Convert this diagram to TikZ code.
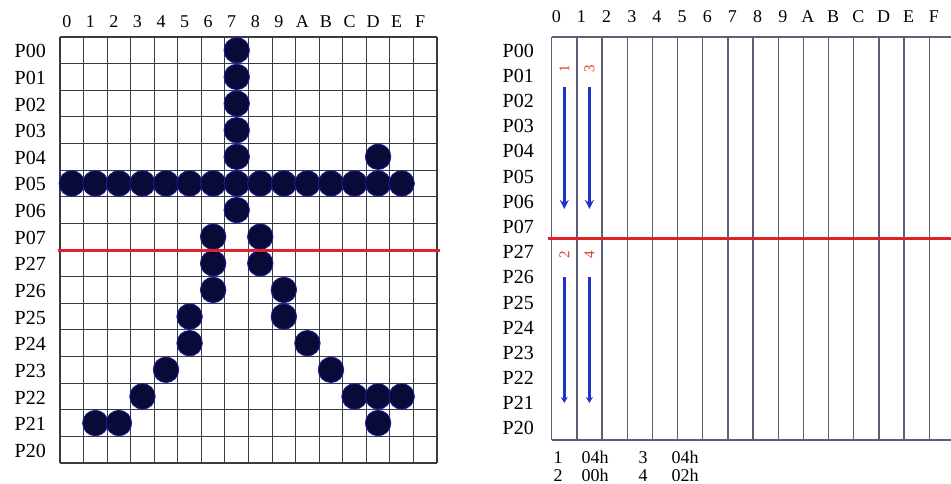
\documentclass[tikz,border=0pt]{standalone}
\usepackage{fontspec}
\setmainfont{Liberation Serif}
\usetikzlibrary{arrows.meta,positioning}
\definecolor{dotnavy}{HTML}{0A0A38}
\definecolor{dotrim}{HTML}{1C1CA0}
\definecolor{gridgray}{HTML}{3A3A44}
\definecolor{lanegray}{HTML}{5E5E7A}
\definecolor{cutred}{HTML}{E0202A}
\definecolor{scanblue}{HTML}{1F35C8}
\definecolor{tagred}{HTML}{D8402A}

\begin{document}
\begin{tikzpicture}[x=1pt, y=-1pt, >=Stealth,
  lbl/.style={font=\fontsize{20}{22}\selectfont, inner sep=0pt, anchor=east},
  colno/.style={font=\fontsize{18}{20}\selectfont, inner sep=0pt, anchor=base},
  pixel/.style={circle, minimum size=25.5pt, inner sep=0pt, draw=dotrim, line width=0.8pt, fill=dotnavy},
  gridline/.style={draw=gridgray, line width=1.1pt},
  laneline/.style={draw=lanegray, line width=1.4pt},
  cutline/.style={draw=cutred, line width=3.5pt},
  scan/.style={->, line width=3pt, draw=scanblue},
  tag/.style={font=\fontsize{15}{16}\selectfont, text=tagred, rotate=90, inner sep=0pt},
  code/.style={font=\fontsize{18}{19}\selectfont, inner sep=0pt, anchor=base}]
  \useasboundingbox (0,0) rectangle (951,484);
  \fill[white] (0,0) rectangle (951,484);

  % Left panel: grid
  \foreach \i in {0,...,16}
    \draw[gridline] ({60+23.5625*\i},37) -- ({60+23.5625*\i},463);
  \foreach \j in {0,...,16}
    \draw[gridline] (60,{37+26.625*\j}) -- (437,{37+26.625*\j});

  % Left panel: column and row labels
  \foreach \c [count=\i from 0] in {0,1,2,3,4,5,6,7,8,9,A,B,C,D,E,F}
    \node[colno] (lc\c) at ({60+23.5625*(\i+0.5)-5},28) {\c};
  \foreach \r [count=\j from 0] in {P00,P01,P02,P03,P04,P05,P06,P07,P27,P26,P25,P24,P23,P22,P21,P20}
    \node[lbl] (l\r) at (46,{37+26.625*(\j+0.5)+1}) {\r};

  % Left panel: lit pixels
  \foreach \c in {0,...,14}
    \node[pixel] (d\c-5) at ({60+23.5625*(\c+0.5)},{37+26.625*5.5}) {};
  \foreach \c/\r in {7/0,7/1,7/2,7/3,7/4,13/4,7/6,6/7,8/7,6/8,8/8,6/9,9/9,5/10,9/10,
                     5/11,10/11,4/12,11/12,3/13,12/13,13/13,14/13,1/14,2/14,13/14}
    \node[pixel] (d\c-\r) at ({60+23.5625*(\c+0.5)},{37+26.625*(\r+0.5)}) {};

  \draw[cutline] (58,250.5) -- (440,250.5);

  % Right panel: lanes
  \foreach \i in {0,...,16}
    \draw[laneline] ({551.7+25.17*\i},37) -- ({551.7+25.17*\i},440);
  \draw[laneline] (551.7,37) -- (951,37);
  \draw[laneline] (551.7,440) -- (951,440);

  % Right panel: column and row labels
  \foreach \c [count=\i from 0] in {0,1,2,3,4,5,6,7,8,9,A,B,C,D,E,F}
    \node[colno] (rc\c) at ({551.7+25.17*(\i+0.5)-8},23) {\c};
  \foreach \r [count=\j from 0] in {P00,P01,P02,P03,P04,P05,P06,P07,P27,P26,P25,P24,P23,P22,P21,P20}
    \node[lbl] (r\r) at (534,{37+25.19*(\j+0.5)+1}) {\r};

  \draw[cutline] (548,238.6) -- (951,238.6);

  % Scan order
  \node[tag] (t1) at (564.3,69) {1};
  \node[tag] (t3) at (589.4,69) {3};
  \node[tag] (t2) at (564.3,255) {2};
  \node[tag] (t4) at (589.4,255) {4};
  \coordinate (s1) at (564.3,87);  \coordinate (e1) at (564.3,209);
  \coordinate (s3) at (589.4,87);  \coordinate (e3) at (589.4,209);
  \coordinate (s2) at (564.3,277); \coordinate (e2) at (564.3,403);
  \coordinate (s4) at (589.4,277); \coordinate (e4) at (589.4,403);
  \draw[scan, -{Stealth[length=9pt,width=9pt]}] (s1) -- (e1);
  \draw[scan, -{Stealth[length=9pt,width=9pt]}] (s3) -- (e3);
  \draw[scan, -{Stealth[length=6pt,width=7pt]}] (s2) -- (e2);
  \draw[scan, -{Stealth[length=6pt,width=7pt]}] (s4) -- (e4);

  % Codes
  \node[code] (k1) at (558,463) {1};
  \node[code] (v1) at (595,463) {04h};
  \node[code] (k3) at (643,463) {3};
  \node[code] (v3) at (685,463) {04h};
  \node[code] (k2) at (558,481) {2};
  \node[code] (v2) at (595,481) {00h};
  \node[code] (k4) at (643,481) {4};
  \node[code] (v4) at (685,481) {02h};
\end{tikzpicture}
\end{document}
